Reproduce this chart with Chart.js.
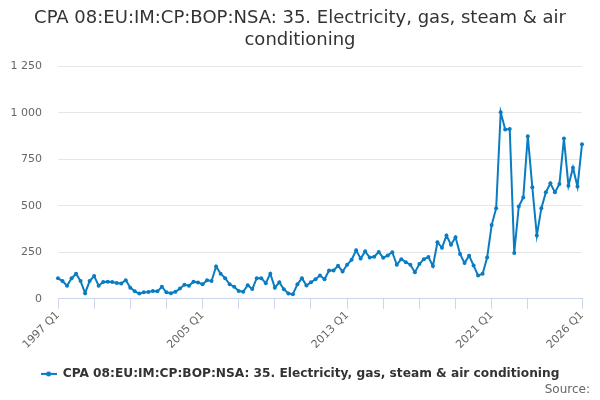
<!DOCTYPE html>
<html>
<head>
<meta charset="utf-8">
<script src="https://cdn.jsdelivr.net/npm/chart.js@4/dist/chart.umd.min.js"></script>
<style>
  html, body { margin: 0; padding: 0; background: #fff; }
  #wrap { width: 600px; height: 400px; }
</style>
</head>
<body>
<div id="wrap"><canvas id="line-chart" width="600" height="400"></canvas></div>
<script>
const TITLE = ['CPA 08:EU:IM:CP:BOP:NSA: 35. Electricity, gas, steam & air', 'conditioning']
const SERIES_NAME = 'CPA 08:EU:IM:CP:BOP:NSA: 35. Electricity, gas, steam & air conditioning'

// quarters 1997 Q1 .. 2026 Q1
const quarters = []
for (let y = 1997; y <= 2026; y++) {
  for (let q = 1; q <= 4; q++) {
    if (y === 2026 && q > 1) break
    quarters.push(y + ' Q' + q)
  }
}

const values = [
  110, 95, 70, 110, 135, 95, 30, 95, 122, 70, 90, 92, 90, 85, 82, 100,
  60, 40, 28, 35, 37, 42, 40, 65, 35, 30, 38, 55, 75, 70, 92, 88,
  78, 100, 96, 174, 135, 111, 78, 65, 42, 38, 73, 52, 111, 111, 84, 135,
  60, 89, 51, 29, 25, 78, 111, 71, 89, 105, 125, 105, 152, 152, 177, 147,
  183, 210, 261, 216, 255, 222, 226, 252, 220, 233, 250, 183, 213, 197, 183, 143,
  187, 213, 224, 176, 304, 274, 340, 291, 331, 241, 192, 232, 179, 125, 134, 222,
  396, 487, 1002, 910, 912, 246, 496, 545, 874, 600, 340, 487, 572, 621, 572, 617,
  861, 608, 704, 603, 831
]

const labelQuarters = ['1997 Q1', '2005 Q1', '2013 Q1', '2021 Q1', '2026 Q1']
const tickQuarters = ['1999 Q1', '2001 Q1', '2003 Q1', '2007 Q1', '2009 Q1', '2011 Q1',
  '2015 Q1', '2017 Q1', '2019 Q1', '2023 Q1']
const yTicks = [0, 250, 500, 750, 1000, 1250]

const COLORS = {
  line: '#0a7cc1',
  text: '#333333',
  axisText: '#666666',
  grid: '#e6e6e6',
  axis: '#ccd6eb'
}
const FONT = '"DejaVu Sans", sans-serif'

// legend symbol: short line with a dot in the middle
const legendSymbol = document.createElement('canvas')
legendSymbol.width = 16
legendSymbol.height = 8
const sctx = legendSymbol.getContext('2d')
sctx.strokeStyle = COLORS.line
sctx.lineWidth = 2
sctx.beginPath()
sctx.moveTo(0, 4)
sctx.lineTo(16, 4)
sctx.stroke()
sctx.fillStyle = COLORS.line
sctx.beginPath()
sctx.arc(8, 4, 2.5, 0, Math.PI * 2)
sctx.fill()

const sourcePlugin = {
  id: 'sourceText',
  afterDraw(chart) {
    const c = chart.ctx
    c.save()
    c.font = '12px ' + FONT
    c.fillStyle = COLORS.axisText
    c.textAlign = 'right'
    c.textBaseline = 'middle'
    c.fillText('Source:', 590, 390)
    c.restore()
  }
}

const fmt = v => String(v).replace(/\B(?=(\d{3})+(?!\d))/g, ' ')

const ctx = document.getElementById('line-chart')

const config = {
  type: 'line',
  data: {
    labels: quarters,
    datasets: [{
      label: SERIES_NAME,
      data: values,
      borderColor: COLORS.line,
      backgroundColor: COLORS.line,
      borderWidth: 2,
      pointRadius: 2,
      pointBackgroundColor: COLORS.line,
      pointBorderWidth: 0,
      tension: 0
    }]
  },
  options: {
    responsive: false,
    animation: false,
    layout: { padding: { left: 0, right: 0, top: 0, bottom: 10 } },
    plugins: {
      title: {
        display: true,
        text: TITLE,
        color: COLORS.text,
        font: { family: FONT, size: 18, weight: 'normal', lineHeight: 1.2 },
        padding: { top: 8, bottom: 15 }
      },
      legend: {
        display: true,
        position: 'bottom',
        labels: {
          usePointStyle: true,
          pointStyle: legendSymbol,
          pointStyleWidth: 16,
          color: COLORS.text,
          font: { family: FONT, size: 12.2, weight: 'bold' },
          padding: 10
        }
      },
      tooltip: { enabled: false }
    },
    scales: {
      x: {
        type: 'category',
        offset: false,
        grid: {
          drawOnChartArea: false,
          drawTicks: true,
          tickLength: 10,
          color: COLORS.axis
        },
        border: { display: true, color: COLORS.axis, width: 1 },
        ticks: {
          autoSkip: false,
          maxRotation: 45,
          minRotation: 45,
          padding: 0,
          color: COLORS.axisText,
          font: { family: FONT, size: 11 },
          callback: function (value) {
            const lab = this.getLabelForValue(value)
            if (labelQuarters.includes(lab)) return lab
            if (tickQuarters.includes(lab)) return ''
            return null
          }
        },
        afterFit: scale => { scale.height = 59 }
      },
      y: {
        min: 0,
        max: 1250,
        afterBuildTicks: scale => { scale.ticks = yTicks.map(v => ({ value: v })) },
        grid: { color: COLORS.grid, drawTicks: false },
        border: { display: false },
        ticks: {
          padding: 16,
          color: COLORS.axisText,
          font: { family: FONT, size: 11 },
          callback: v => fmt(v)
        },
        afterFit: scale => { scale.width = 58 }
      },
      // empty right-hand spacer so the plot ends at the same place as the reference
      spacer: {
        type: 'linear',
        position: 'right',
        min: 0,
        max: 1,
        grid: { display: false, drawTicks: false },
        border: { display: false },
        ticks: { display: false },
        afterFit: scale => { scale.width = 18 }
      }
    }
  },
  plugins: [sourcePlugin]
}

let lineChart = new Chart(ctx, config)
</script>
</body>
</html>
